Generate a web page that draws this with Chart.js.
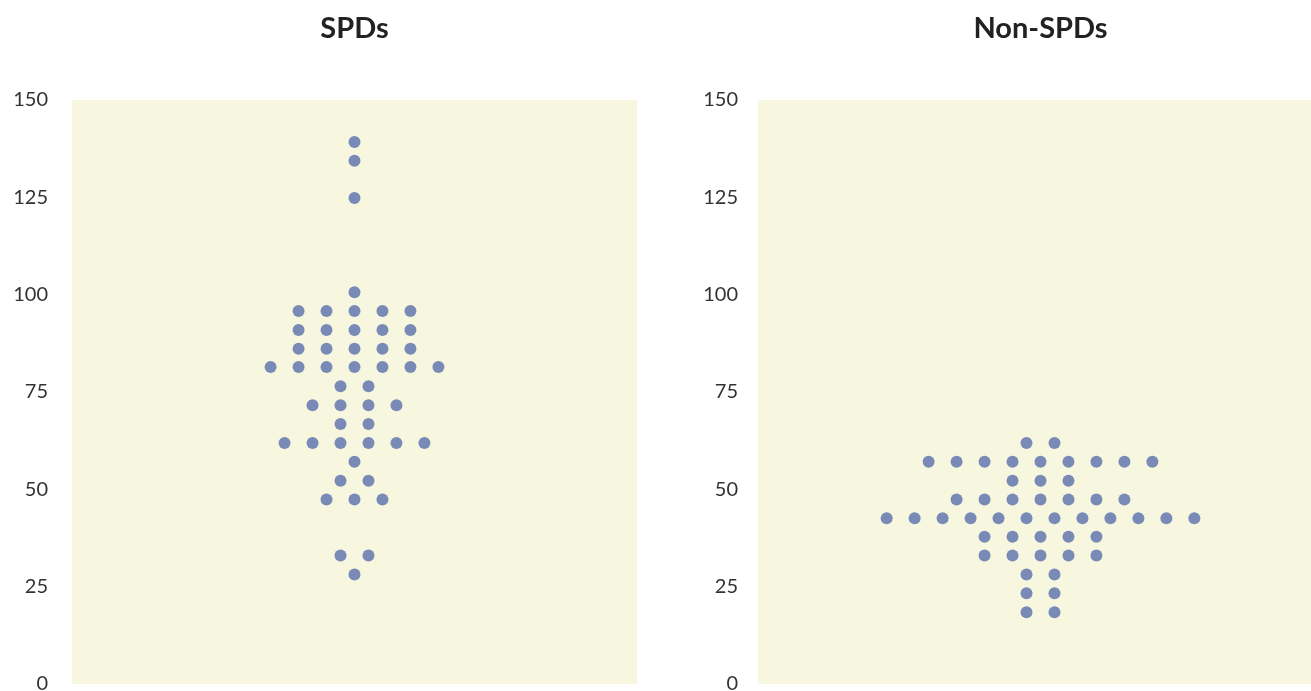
<!DOCTYPE html>
<html><head><meta charset="utf-8">
<script src="https://cdn.jsdelivr.net/npm/chart.js@4.4.1/dist/chart.umd.min.js"></script>
<style>
html,body{margin:0;padding:0;background:#fff;overflow:hidden;width:1311px;height:691px;}
#wrap{position:relative;width:1311px;height:691px;overflow:hidden;}
.box{position:absolute;top:0;height:720px;}
#b1{left:0;width:700px;}
#b2{left:700px;width:700px;}
</style></head><body>
<div id="wrap"><div class="box" id="b1"><canvas id="c1"></canvas></div><div class="box" id="b2"><canvas id="c2"></canvas></div></div>
<script>
// ---- data ----
const panelTitles = ["SPDs", "Non-SPDs"];
const yTicks = [0, 25, 50, 75, 100, 125, 150];

// SPDs: value of each row, and horizontal (dot-plot stacking) positions of the dots in that row
const spdRowValues  = [139.2, 134.4, 124.8, 100.6, 95.8, 90.9, 86.1, 81.4, 76.5, 71.6, 66.8, 61.9, 57.1, 52.2, 47.4, 33.0, 28.1];
const spdRowOffsets = [[0], [0], [0], [0], [-4,-2,0,2,4], [-4,-2,0,2,4], [-4,-2,0,2,4], [-6,-4,-2,0,2,4,6],
                       [-1,1], [-3,-1,1,3], [-1,1], [-5,-3,-1,1,3,5], [0], [-1,1], [-2,0,2], [-1,1], [0]];

// Non-SPDs
const nonRowValues  = [61.9, 57.1, 52.2, 47.4, 42.6, 37.8, 33.0, 28.1, 23.3, 18.4];
const nonRowOffsets = [[-1,1], [-8,-6,-4,-2,0,2,4,6,8], [-2,0,2], [-6,-4,-2,0,2,4,6],
                       [-11,-9,-7,-5,-3,-1,1,3,5,7,9,11], [-4,-2,0,2,4], [-4,-2,0,2,4], [-1,1], [-1,1], [-1,1]];

const dotColor = "#7a8ab7";
const plotBg = "#f7f7e0";

function toPoints(vals, offs) {
  const pts = [];
  vals.forEach((v, i) => offs[i].forEach(o => pts.push({x: o, y: v})));
  return pts;
}

const bgPlugin = {
  id: "plotBg",
  beforeDraw(chart) {
    const a = chart.chartArea, ctx = chart.ctx;
    ctx.save();
    ctx.fillStyle = plotBg;
    ctx.fillRect(a.left, a.top, a.right - a.left, a.bottom - a.top);
    ctx.restore();
  }
};

function makeChart(id, title, pts, yAxisWidth, tickPad, padRight) {
  return new Chart(document.getElementById(id), {
    type: "scatter",
    data: { datasets: [{ data: pts, backgroundColor: dotColor, borderWidth: 0, pointRadius: 6, pointHoverRadius: 6 }] },
    options: {
      responsive: true, maintainAspectRatio: false, animation: false,
      layout: { padding: { left: 0, right: padRight, top: 0, bottom: 36 } },
      plugins: {
        legend: { display: false }, tooltip: { enabled: false },
        title: { display: true, text: title, fullSize: false, color: "#222",
                 font: { family: "Lato", size: 29, weight: "bold" }, padding: { top: 11, bottom: 54.2 } }
      },
      scales: {
        x: { type: "linear", min: -20.2, max: 20.2, display: false },
        y: {
          min: 0, max: 150,
          afterBuildTicks: s => { s.ticks = yTicks.map(v => ({ value: v })); },
          afterFit: s => { s.width = yAxisWidth; },
          grid: { display: false, drawTicks: false },
          border: { display: false },
          ticks: { padding: tickPad, color: "#333", font: { family: "Lato", size: 20 } }
        }
      }
    },
    plugins: [bgPlugin]
  });
}

makeChart("c1", panelTitles[0], toPoints(spdRowValues, spdRowOffsets), 72, 24, 63);
makeChart("c2", panelTitles[1], toPoints(nonRowValues, nonRowOffsets), 58, 20, 77);
</script>
</body></html>
